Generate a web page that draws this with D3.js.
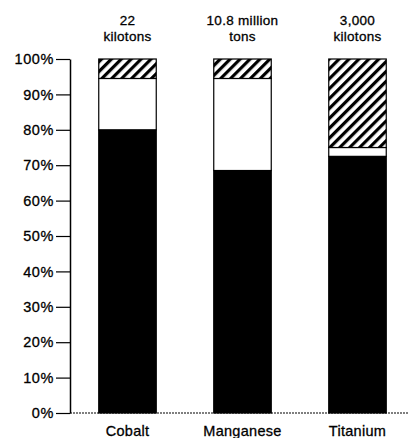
<!DOCTYPE html>
<html><head><meta charset="utf-8">
<script src="https://cdn.jsdelivr.net/npm/d3@7"></script>
<style>body{margin:0;background:#fff}</style>
</head><body>
<svg id="c" width="409" height="438"></svg>
<script>
const categories = ["Cobalt", "Manganese", "Titanium"];
const blackShare = [80, 68.5, 72.5];
const whiteShare = [14.5, 26, 2.5];
const hatchShare = [5.5, 5.5, 25];
const topLine1 = ["22", "10.8 million", "3,000"];
const topLine2 = ["kilotons", "tons", "kilotons"];
const yTicks = [0, 10, 20, 30, 40, 50, 60, 70, 80, 90, 100];

const svg = d3.select("#c");
const font = "Liberation Sans, Arial, sans-serif";
const x = d3.scaleBand().domain(categories).range([70, 415]).paddingInner(0.5).paddingOuter(0.25);
const y = d3.scaleLinear().domain([0, 100]).range([413, 59]);

const defs = svg.append("defs");
const pat = defs.append("pattern").attr("id", "hatch").attr("patternUnits", "userSpaceOnUse")
  .attr("width", 7).attr("height", 7).attr("patternTransform", "rotate(45)");
pat.append("rect").attr("width", 7).attr("height", 7).attr("fill", "#fff");
pat.append("rect").attr("x", 0).attr("width", 3.2).attr("height", 7).attr("fill", "#000");

const rows = categories.map((c, i) => ({c, segs: [
  {v0: 0, v1: blackShare[i], fill: "#000"},
  {v0: blackShare[i], v1: blackShare[i] + whiteShare[i], fill: "#fff"},
  {v0: blackShare[i] + whiteShare[i], v1: blackShare[i] + whiteShare[i] + hatchShare[i], fill: "url(#hatch)"}
]}));

const g = svg.append("g");
rows.forEach(r => {
  g.selectAll(null).data(r.segs).enter().append("rect")
    .attr("x", x(r.c)).attr("width", x.bandwidth())
    .attr("y", d => y(d.v1)).attr("height", d => y(d.v0) - y(d.v1))
    .attr("fill", d => d.fill).attr("stroke", "#000").attr("stroke-width", 1.2);
});

// y axis
const ax = svg.append("g").attr("transform", "translate(70,0)")
  .call(d3.axisLeft(y).tickValues(yTicks).tickFormat(d => d + "%").tickSize(14).tickSizeOuter(0));
ax.select(".domain").attr("stroke", "#000").attr("stroke-width", 1.5);
ax.selectAll(".tick line").attr("stroke", "#000").attr("stroke-width", 1.2);
ax.selectAll(".tick text").attr("font-family", font).attr("font-size", 14.5).attr("letter-spacing", 0.6)
  .attr("fill", "#000").attr("stroke", "#000").attr("stroke-width", 0.3).attr("x", -16);

// baseline
svg.append("line").attr("x1", 70).attr("x2", 409).attr("y1", y(0)).attr("y2", y(0))
  .attr("stroke", "#000").attr("stroke-width", 1.2).attr("stroke-dasharray", "2,1");

// labels
const lab = (xx, yy, t, fs) => svg.append("text").attr("x", xx).attr("y", yy).attr("text-anchor", "middle")
    .attr("font-family", font).attr("font-size", fs).attr("letter-spacing", 0.3)
    .attr("stroke", "#000").attr("stroke-width", 0.3).text(t);
categories.forEach((c, i) => {
  const cx = x(c) + x.bandwidth() / 2;
  lab(cx, 25, topLine1[i], 13.5);
  lab(cx, 41, topLine2[i], 13.5);
  lab(cx, 436, c, 14.5);
});
</script>
</body></html>
